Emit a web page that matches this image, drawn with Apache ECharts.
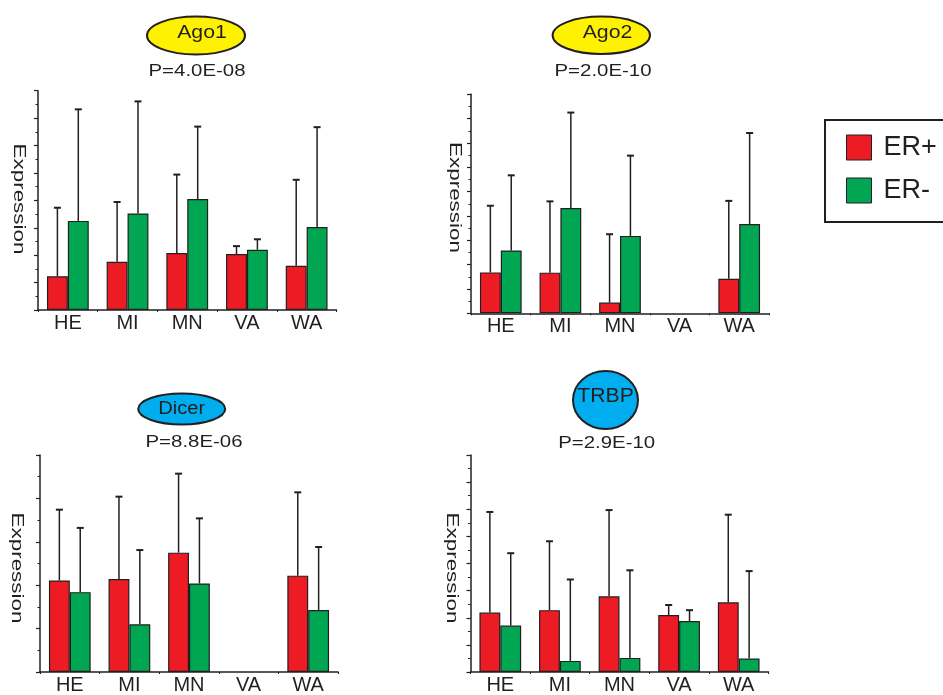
<!DOCTYPE html>
<html>
<head>
<meta charset="utf-8">
<script src="https://cdn.jsdelivr.net/npm/echarts@6/dist/echarts.min.js"></script>
<style>
html,body{margin:0;padding:0;background:#fff;}
#c{width:943px;height:695px;}
</style>
</head>
<body>
<div id="c"></div>
<script>
// ---- data ----
const categories = ['HE', 'MI', 'MN', 'VA', 'WA'];
const seriesNames = ['ER+', 'ER-'];

const ago1ErPos = [1.23, 1.76, 2.08, 2.04, 1.61];
const ago1ErPosSd = [2.50, 2.18, 2.86, 0.29, 3.14];
const ago1ErNeg = [3.25, 3.52, 4.05, 2.20, 3.03];
const ago1ErNegSd = [4.07, 4.09, 2.64, 0.38, 3.64];

const ago2ErPos = [1.68, 1.67, 0.44, null, 1.42];
const ago2ErPosSd = [2.74, 2.93, 2.81, null, 3.20];
const ago2ErNeg = [2.58, 4.33, 3.18, null, 3.67];
const ago2ErNegSd = [3.09, 3.92, 3.30, null, 3.74];

const dicerErPos = [2.11, 2.14, 2.75, null, 2.22];
const dicerErPosSd = [1.63, 1.90, 1.82, null, 1.92];
const dicerErNeg = [1.84, 1.10, 2.04, null, 1.43];
const dicerErNegSd = [1.48, 1.71, 1.50, null, 1.45];

const trbpErPos = [2.19, 2.28, 2.79, 2.10, 2.57];
const trbpErPosSd = [3.71, 2.54, 3.18, 0.37, 3.23];
const trbpErNeg = [1.71, 0.41, 0.52, 1.88, 0.50];
const trbpErNegSd = [2.67, 3.00, 3.23, 0.40, 3.22];

const panelTitles = ['Ago1', 'Ago2', 'Dicer', 'TRBP'];
const pValues = ['P=4.0E-08', 'P=2.0E-10', 'P=8.8E-06', 'P=2.9E-10'];
const yMax = [8, 9, 5, 8];
const yLabel = 'Expression';

// ---- layout / style ----
const FONT = '"Liberation Sans", Arial, Helvetica, sans-serif';
const INK = '#231F20';
const RED = '#ED1C24';
const GREEN = '#00A651';
const grids = [
  {left: 38, top: 90.7, width: 298.5, height: 219.3},
  {left: 471, top: 94.3, width: 298, height: 219},
  {left: 40, top: 455, width: 298, height: 219},
  {left: 470.5, top: 455, width: 298, height: 219}
];
const panels = [
  {pos: ago1ErPos, posSd: ago1ErPosSd, neg: ago1ErNeg, negSd: ago1ErNegSd},
  {pos: ago2ErPos, posSd: ago2ErPosSd, neg: ago2ErNeg, negSd: ago2ErNegSd},
  {pos: dicerErPos, posSd: dicerErPosSd, neg: dicerErNeg, negSd: dicerErNegSd},
  {pos: trbpErPos, posSd: trbpErPosSd, neg: trbpErNeg, negSd: trbpErNegSd}
];
const badges = [
  {cx: 196, cy: 35.5, rx: 49, ry: 19, fill: '#FFF200', tx: 202, ty: 33, fs: 18.5, sx: 1.15},
  {cx: 601.3, cy: 35.3, rx: 48.7, ry: 18.7, fill: '#FFF200', tx: 607.5, ty: 33, fs: 18.5, sx: 1.15},
  {cx: 181.7, cy: 409, rx: 43.5, ry: 15.5, fill: '#00AEEF', tx: 181.7, ty: 409, fs: 17.5, sx: 1.15},
  {cx: 605.5, cy: 400, rx: 32.5, ry: 29, fill: '#00AEEF', tx: 605.5, ty: 396.5, fs: 20, sx: 1.06}
];
const pPos = [[197, 71.5], [603, 71.5], [194, 442], [606.7, 443]];
const exprPos = [[18.5, 199], [454, 197.5], [16.7, 568], [451.7, 568]];

const BAR_HALF = 0.175;

function renderErr(params, api) {
  const i = api.value(0), v = api.value(1), sd = api.value(2), side = api.value(3);
  const base = api.coord([i, v]);
  const top = api.coord([i, v + sd]);
  const band = api.size([1, 0])[0];
  const x = base[0] + side * band * BAR_HALF;
  return {
    type: 'group',
    children: [
      {type: 'line', shape: {x1: x, y1: base[1], x2: x, y2: top[1]}, style: {stroke: INK, lineWidth: 1.5}},
      {type: 'line', shape: {x1: x - 3.5, y1: top[1], x2: x + 3.5, y2: top[1]}, style: {stroke: INK, lineWidth: 2}}
    ]
  };
}

const xAxes = [], yAxes = [], series = [], graphics = [];
grids.forEach((g, k) => {
  xAxes.push({
    gridIndex: k, type: 'category', data: categories, boundaryGap: true,
    axisLine: {show: true, lineStyle: {color: INK, width: 1.5}},
    axisTick: {show: true, length: 2, lineStyle: {color: INK, width: 1}},
    axisLabel: {fontFamily: FONT, fontSize: 20, color: INK, margin: 3, interval: 0},
    splitLine: {show: false}
  });
  yAxes.push({
    gridIndex: k, type: 'value', min: 0, max: yMax[k], interval: 1,
    axisLine: {show: true, lineStyle: {color: INK, width: 1.5}},
    axisTick: {show: true, length: 4, lineStyle: {color: INK, width: 1.2}},
    minorTick: {show: true, splitNumber: 2, length: 2.5, lineStyle: {color: INK, width: 1}},
    axisLabel: {show: false},
    splitLine: {show: false}
  });
  const p = panels[k];
  [[p.pos, RED, seriesNames[0]], [p.neg, GREEN, seriesNames[1]]].forEach(([vals, col, nm]) => {
    series.push({
      type: 'bar', name: nm, xAxisIndex: k, yAxisIndex: k,
      data: vals.map(v => v == null ? '-' : v),
      barGap: '0%', barCategoryGap: '30%',
      itemStyle: {color: col, borderColor: INK, borderWidth: 1.2},
      emphasis: {disabled: true}, z: 2
    });
  });
  const errData = [];
  p.pos.forEach((v, i) => { if (v != null) errData.push([i, v, p.posSd[i], -1]); });
  p.neg.forEach((v, i) => { if (v != null) errData.push([i, v, p.negSd[i], 1]); });
  series.push({
    type: 'custom', xAxisIndex: k, yAxisIndex: k, renderItem: renderErr,
    data: errData, encode: {x: 0, y: 1}, z: 3, silent: true
  });

  const b = badges[k];
  graphics.push({
    type: 'ellipse', shape: {cx: b.cx, cy: b.cy, rx: b.rx, ry: b.ry},
    style: {fill: b.fill, stroke: INK, lineWidth: 2}, z: 10
  });
  graphics.push({
    type: 'text', x: b.tx, y: b.ty, scaleX: b.sx, z: 11,
    style: {text: panelTitles[k], font: b.fs + 'px ' + FONT, fill: INK, align: 'center', verticalAlign: 'middle'}
  });
  graphics.push({
    type: 'text', x: pPos[k][0], y: pPos[k][1], scaleX: 1.2, z: 11,
    style: {text: pValues[k], font: '17px ' + FONT, fill: INK, align: 'center', verticalAlign: 'middle'}
  });
  graphics.push({
    type: 'text', x: exprPos[k][0], y: exprPos[k][1], rotation: -Math.PI / 2, scaleX: 1.4, z: 11,
    style: {text: yLabel, font: '16px ' + FONT, fill: INK, align: 'center', verticalAlign: 'middle'}
  });
});

const chart = echarts.init(document.getElementById('c'), null, {renderer: 'canvas'});
chart.setOption({
  animation: false,
  backgroundColor: '#ffffff',
  grid: grids,
  xAxis: xAxes,
  yAxis: yAxes,
  legend: {
    data: seriesNames, orient: 'vertical', left: 825, top: 120,
    padding: [14, 20, 18, 21], itemGap: 16, itemWidth: 25, itemHeight: 25,
    borderColor: INK, borderWidth: 2, icon: 'rect',
    itemStyle: {borderColor: INK, borderWidth: 1},
    textStyle: {fontFamily: FONT, fontSize: 27, color: INK, lineHeight: 25, padding: [0, 0, 0, 7]},
    selectedMode: false
  },
  graphic: graphics,
  series: series
});
</script>
</body>
</html>
